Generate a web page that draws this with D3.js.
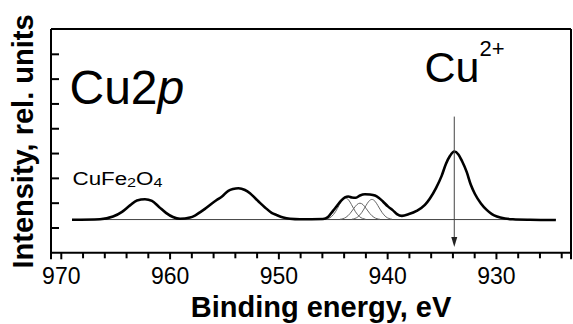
<!DOCTYPE html>
<html>
<head>
<meta charset="utf-8">
<script src="https://cdn.jsdelivr.net/npm/d3@7/dist/d3.min.js"></script>
<style>
  html, body { margin: 0; padding: 0; background: #fff; }
  svg { display: block; }
  text { font-family: "Liberation Sans", Arial, Helvetica, sans-serif; fill: #000; }
</style>
</head>
<body>
<svg id="chart" width="573" height="324"></svg>
<script>
// Cu 2p XPS spectrum of CuFe2O4: binding energy (eV) vs intensity (rel. units)
const energy = [968.97, 966.40, 965.20, 964.37, 963.64, 963.00, 962.26, 961.62, 960.97, 960.33,
                959.69, 959.04, 958.12, 957.67, 957.21, 956.75, 956.29, 955.67, 955.18, 954.60,
                954.17, 953.67, 953.07, 952.61, 952.15, 951.69, 951.23, 950.62, 950.16, 949.55,
                948.93, 948.01, 945.90, 945.44, 944.98, 944.61, 944.25, 943.88, 943.57, 943.24,
                942.87, 942.50, 942.04, 941.58, 941.12, 940.75, 940.39, 939.93, 939.47, 939.10,
                938.64, 938.00, 937.29, 936.53, 936.07, 935.51, 934.99, 934.60, 934.23, 933.83,
                933.45, 933.12, 932.69, 932.30, 931.93, 931.38, 930.85, 930.37, 929.91, 929.17,
                928.44, 926.87, 924.49];
const intensity = [1.31, 1.33, 1.44, 1.63, 1.89, 2.09, 2.14, 2.07, 1.83, 1.59,
                   1.42, 1.35, 1.40, 1.48, 1.61, 1.75, 1.91, 2.11, 2.25, 2.48,
                   2.55, 2.58, 2.51, 2.38, 2.19, 1.99, 1.81, 1.59, 1.50, 1.40,
                   1.35, 1.33, 1.34, 1.42, 1.67, 1.87, 2.07, 2.21, 2.25, 2.21,
                   2.20, 2.29, 2.34, 2.33, 2.29, 2.19, 2.05, 1.85, 1.69, 1.54,
                   1.47, 1.54, 1.67, 1.91, 2.17, 2.59, 3.08, 3.56, 3.88, 4.06,
                   3.94, 3.68, 3.24, 2.71, 2.35, 1.97, 1.71, 1.54, 1.44, 1.36,
                   1.33, 1.31, 1.30];

// Fitted satellite components (944–940 eV)
const compAEnergy = [945.67, 945.12, 944.75, 944.38, 944.11, 943.83, 943.55, 943.28, 942.91, 942.54, 941.99];
const compAValue  = [1.335, 1.437, 1.633, 1.923, 2.113, 2.19, 2.113, 1.923, 1.633, 1.437, 1.335];
const compBEnergy = [944.34, 943.79, 943.42, 943.05, 942.78, 942.50, 942.22, 941.95, 941.58, 941.21, 940.66];
const compBValue  = [1.331, 1.409, 1.558, 1.777, 1.922, 1.98, 1.922, 1.777, 1.558, 1.409, 1.331];
const compCEnergy = [943.24, 942.69, 942.32, 941.95, 941.68, 941.40, 941.12, 940.85, 940.48, 940.11, 939.56];
const compCValue  = [1.334, 1.429, 1.612, 1.881, 2.059, 2.13, 2.059, 1.881, 1.612, 1.429, 1.334];

// Background line and Cu2+ marker
const baselineEnergy = [968.97, 924.49];
const baselineValue = 1.32;
const markerEnergy = 933.83;
const markerRange = [5.47, 0.21];

// Axis ticks
const majorTicks = [970, 960, 950, 940, 930];
const minorTicks = [968, 966, 964, 962, 958, 956, 954, 952, 948, 946, 944, 942, 938, 936, 934, 932, 928, 926, 924];
const yTicks = [1, 2, 3, 4, 5, 6, 7, 8];

const svg = d3.select("#chart");
const plotLeft = 51, plotRight = 571, plotTop = 29, plotBottom = 252.3;

const x = d3.scaleLinear().domain([970.9, 923.1]).range([plotLeft, plotRight]);
const y = d3.scaleLinear().domain([0, 9]).range([plotBottom, plotTop]);

// Frame
const frame = svg.append("g").attr("stroke", "#000").attr("stroke-width", 2).attr("fill", "none");
frame.append("line").attr("x1", plotLeft).attr("x2", plotRight).attr("y1", plotTop).attr("y2", plotTop);
frame.append("line").attr("x1", plotRight).attr("x2", plotRight).attr("y1", plotTop).attr("y2", plotBottom + 7);
frame.append("line").attr("x1", plotLeft).attr("x2", plotLeft).attr("y1", plotTop).attr("y2", plotBottom + 7);

// Y ticks (inward, unlabeled)
const yAxis = d3.axisRight(y).tickValues(yTicks).tickSize(8).tickFormat("");
svg.append("g").attr("transform", `translate(${plotLeft},0)`).call(yAxis)
  .call(g => g.select(".domain").remove())
  .call(g => g.selectAll(".tick line").attr("stroke", "#000").attr("stroke-width", 2));

// X axis: minor ticks
svg.append("g").attr("transform", `translate(0,${plotBottom})`)
  .call(d3.axisBottom(x).tickValues(minorTicks).tickSize(6).tickFormat(""))
  .call(g => g.select(".domain").remove())
  .call(g => g.selectAll(".tick line").attr("stroke", "#000").attr("stroke-width", 2));

// X axis: major ticks with labels
svg.append("g").attr("transform", `translate(0,${plotBottom})`)
  .call(d3.axisBottom(x).tickValues(majorTicks).tickSize(7).tickSizeOuter(0).tickFormat(d3.format("d")))
  .call(g => g.select(".domain").attr("stroke", "#000").attr("stroke-width", 2))
  .call(g => g.selectAll(".tick line").attr("stroke", "#000").attr("stroke-width", 2))
  .call(g => g.selectAll(".tick text")
    .attr("y", 31.7).attr("dy", 0)
    .style("font-family", "'Liberation Sans', Arial, sans-serif")
    .style("font-size", "23px").attr("fill", "#000"));

// Baseline
svg.append("line")
  .attr("x1", x(baselineEnergy[0])).attr("x2", x(baselineEnergy[1]))
  .attr("y1", y(baselineValue)).attr("y2", y(baselineValue))
  .attr("stroke", "#444").attr("stroke-width", 1);

// Components
const comps = [[compAEnergy, compAValue], [compBEnergy, compBValue], [compCEnergy, compCValue]];
const compLine = d3.line().x(d => x(d[0])).y(d => y(d[1])).curve(d3.curveMonotoneX);
comps.forEach(([e, v]) => {
  svg.append("path")
    .attr("d", compLine(e.map((d, i) => [d, v[i]])))
    .attr("fill", "none").attr("stroke", "#666").attr("stroke-width", 1);
});

// Envelope
const spectrum = energy.map((d, i) => [d, intensity[i]]);
svg.append("path")
  .attr("d", d3.line().x(d => x(d[0])).y(d => y(d[1])).curve(d3.curveMonotoneX)(spectrum))
  .attr("fill", "none").attr("stroke", "#000").attr("stroke-width", 2.6)
  .attr("stroke-linejoin", "round");

// Cu2+ marker arrow
const ax = x(markerEnergy), ay0 = y(markerRange[0]), ay1 = y(markerRange[1]);
svg.append("line").attr("x1", ax).attr("x2", ax).attr("y1", ay0).attr("y2", ay1 - 4)
  .attr("stroke", "#444").attr("stroke-width", 1);
svg.append("path")
  .attr("d", `M${ax},${ay1} L${ax - 3},${ay1 - 10} L${ax + 3},${ay1 - 10} Z`)
  .attr("fill", "#222");

// Labels
const cu2p = svg.append("text").attr("x", 69.5).attr("y", 103.5).style("font-size", "48px");
cu2p.append("tspan").text("Cu2");
cu2p.append("tspan").style("font-style", "italic").text("p");

const cu2 = svg.append("text").attr("x", 424.5).attr("y", 81.7).style("font-size", "43px");
cu2.append("tspan").text("Cu");
cu2.append("tspan").attr("dy", -25.7).style("font-size", "22px").text("2+");

const ferrite = svg.append("text").attr("x", 72.5).attr("y", 185).style("font-size", "18px")
  .attr("textLength", 90).attr("lengthAdjust", "spacingAndGlyphs");
ferrite.append("tspan").text("CuFe");
ferrite.append("tspan").attr("dy", 2).style("font-size", "13px").text("2");
ferrite.append("tspan").attr("dy", -2).text("O");
ferrite.append("tspan").attr("dy", 2).style("font-size", "13px").text("4");

svg.append("text").attr("x", 321).attr("y", 316.5).attr("text-anchor", "middle")
  .style("font-size", "29px").style("font-weight", "bold").text("Binding energy, eV");

svg.append("text").attr("transform", "translate(33,141.5) rotate(-90)").attr("text-anchor", "middle")
  .style("font-size", "29px").style("font-weight", "bold").text("Intensity, rel. units");
</script>
</body>
</html>
